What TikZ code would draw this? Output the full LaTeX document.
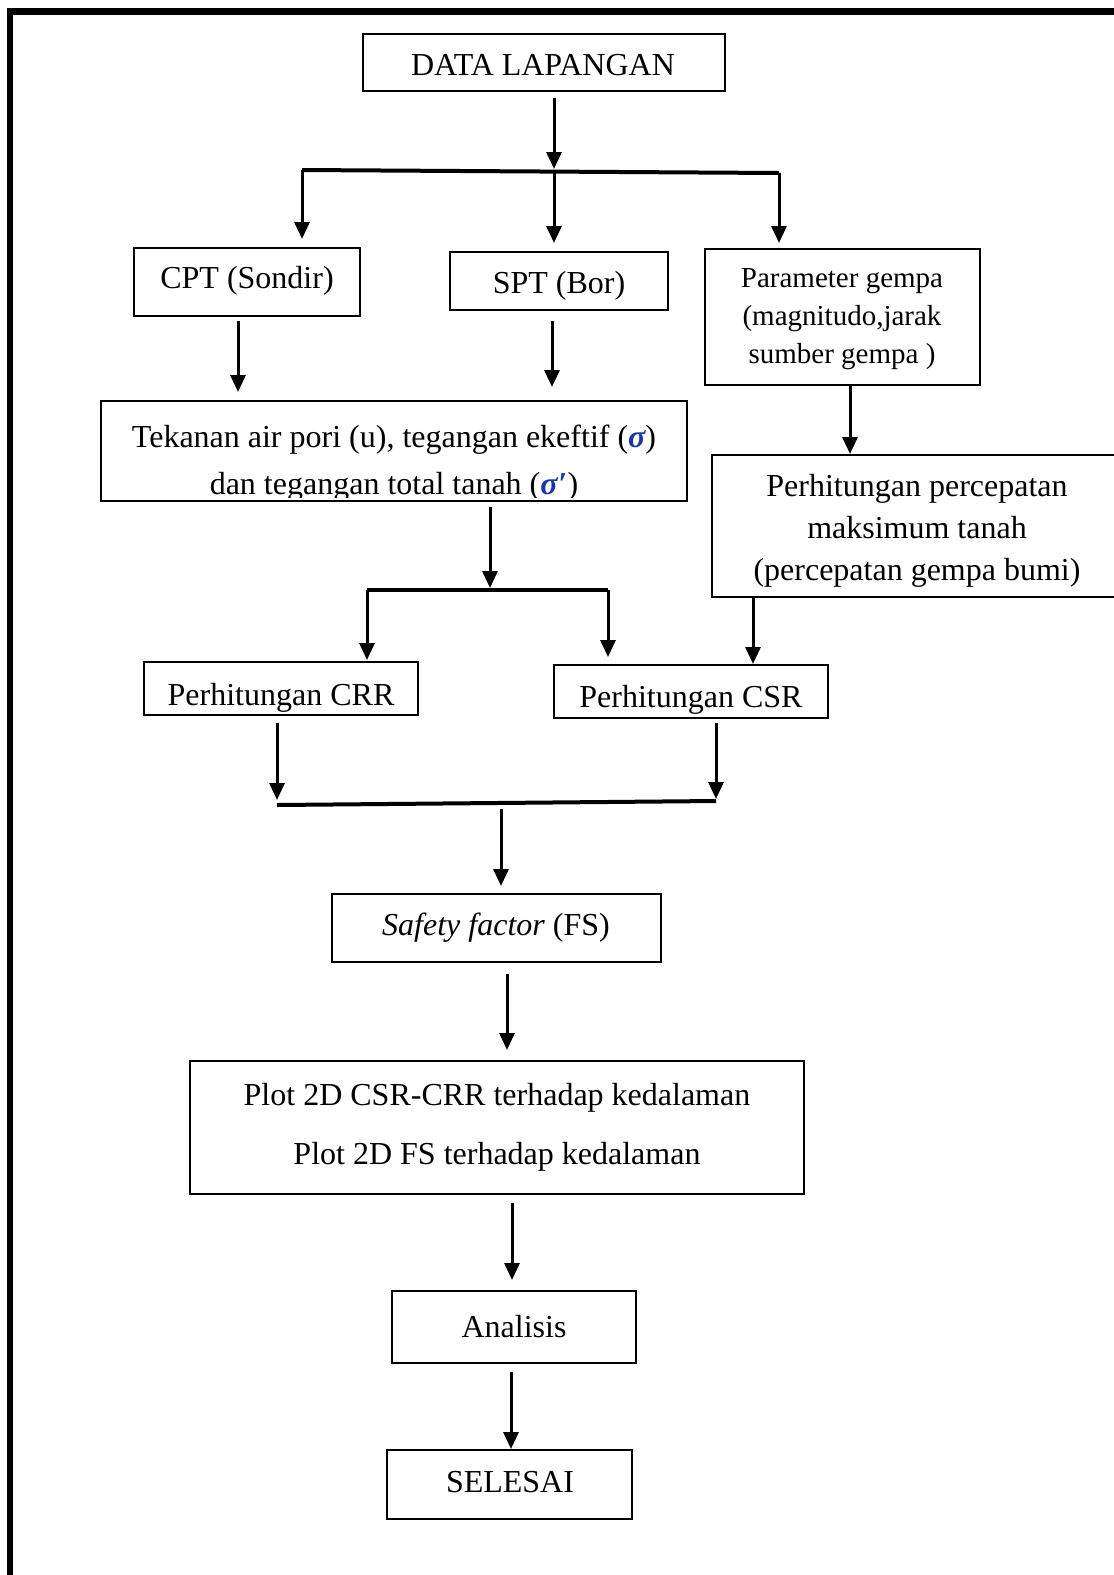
\documentclass[tikz,border=0pt]{standalone}
\usepackage{fontspec}
\setmainfont{Liberation Serif}
\usetikzlibrary{arrows.meta,fit,calc}
\definecolor{sigblue}{RGB}{25,55,165}
\newcommand{\sig}{\textcolor{sigblue}{\bfseries\itshape σ}}
\newcommand{\sigp}{\textcolor{sigblue}{\bfseries\itshape σ\kern1pt\upshape ′}}
\begin{document}
\begin{tikzpicture}[x=1pt,y=-1pt,
  box/.style={draw, line width=2pt, inner sep=0pt},
  txt/.style={anchor=base, inner sep=0pt, font=\fontsize{32}{38}\selectfont},
  stxt/.style={anchor=base, inner sep=0pt, font=\fontsize{29}{34}\selectfont},
  arr/.style={line width=3pt, -{Triangle[width=15pt,length=17pt]}},
  bar/.style={line width=4pt},
]
\clip (0,0) rectangle (1114,1575);
\fill[white] (0,0) rectangle (1114,1575);
% frame
\draw[line width=6.5pt] (10,1590) -- (10,11.5) -- (1130,11.5);

% boxes
\node[box, fit={(363,34) (725,91)}] (data) {};
\node[box, fit={(134,248) (360,316)}] (cpt) {};
\node[box, fit={(450,252) (668,310)}] (spt) {};
\node[box, fit={(705,249) (980,385)}] (param) {};
\node[box, fit={(101,401) (687,501)}] (tek) {};
\node[box, fit={(712,455) (1122,597)}] (perc) {};
\node[box, fit={(144,662) (418,715)}] (crr) {};
\node[box, fit={(554,665) (828,718)}] (csr) {};
\node[box, fit={(332,894) (661,962)}] (sf) {};
\node[box, fit={(190,1061) (804,1194)}] (plot) {};
\node[box, fit={(392,1291) (636,1363)}] (anl) {};
\node[box, fit={(387,1450) (632,1519)}] (sel) {};

% texts
\node[txt] (datat) at (543,75) {DATA LAPANGAN};
\node[txt] (cptt) at (247,288) {CPT (Sondir)};
\node[txt] (sptt) at (559,293) {SPT (Bor)};
\node[stxt] (param1) at (842,287) {Parameter gempa};
\node[stxt] (param2) at (842,325) {(magnitudo,jarak};
\node[stxt] (param3) at (842,363) {sumber gempa )};
\begin{scope}
  \clip (tek.north west) rectangle ($(tek.south east)+(0,-5)$);
  \node[txt] (tek1) at (394,447) {Tekanan air pori (u), tegangan ekeftif (\sig)};
  \node[txt] (tek2) at (394,494) {dan tegangan total tanah (\sigp)};
\end{scope}
\node[txt] (perc1) at (917,496) {Perhitungan percepatan};
\node[txt] (perc2) at (917,538) {maksimum tanah};
\node[txt] (perc3) at (917,580) {(percepatan gempa bumi)};
\begin{scope}
  \clip (crr.north west) rectangle ($(crr.south east)+(0,-5)$);
  \node[txt] (crrt) at (281,705) {Perhitungan CRR};
\end{scope}
\begin{scope}
  \clip (csr.north west) rectangle ($(csr.south east)+(0,-5)$);
  \node[txt] (csrt) at (691,707) {Perhitungan CSR};
\end{scope}
\node[txt] (sft) at (496,935) {\textit{Safety factor} (FS)};
\node[txt] (plot1) at (497,1105) {Plot 2D CSR-CRR terhadap kedalaman};
\node[txt] (plot2) at (497,1164) {Plot 2D FS terhadap kedalaman};
\node[txt] (anlt) at (514,1337) {Analisis};
\node[txt] (selt) at (510,1492) {SELESAI};

% junctions
\coordinate (jA) at (554,171);
\coordinate (jL) at (302,170);
\coordinate (jR) at (779,173);
\coordinate (jT) at (490,590);
\coordinate (jTL) at (367,590);
\coordinate (jTR) at (608,590);
\coordinate (jBL) at (277,805);
\coordinate (jBR) at (716,801);
\coordinate (jBM) at (501,803);

% connectors
\draw[arr] ($(data.south)+(10,6)$) -- ($(jA)+(0,-2)$);
\draw[bar] (jL) -- (jR);
\draw[arr] (jL) -- ($(jL |- cpt.north)+(0,-8)$);
\draw[arr] (jA) -- ($(jA |- spt.north)+(0,-8)$);
\draw[arr] (jR) -- ($(jR |- param.north)+(0,-5)$);
\draw[arr] ($(cpt.south)+(-9,4)$) -- ($(cpt.south |- tek.north)+(-9,-8)$);
\draw[arr] ($(spt.south)+(-7,10)$) -- ($(spt.south |- tek.north)+(-7,-13)$);
\draw[arr] ($(param.south)+(7.5,0)$) -- ($(param.south |- perc.north)+(7.5,0)$);
\draw[arr] ($(tek.south)+(96,5)$) -- ($(jT)+(0,-2)$);
\draw[bar] (jTL) -- (jTR);
\draw[arr] (jTL) -- ($(jTL |- crr.north)+(0,-1)$);
\draw[arr] (jTR) -- ($(jTR |- csr.north)+(0,-7)$);
\draw[arr] ($(perc.south)+(-164,0)$) -- ($(perc.south |- csr.north)+(-164,0)$);
\draw[arr] ($(crr.south)+(-4,7)$) -- ($(jBL)+(0,-5)$);
\draw[arr] ($(csr.south)+(25,4)$) -- ($(jBR)+(0,-2)$);
\draw[bar] (jBL) -- (jBR);
\draw[arr] ($(jBM)+(0,6)$) -- ($(jBM |- sf.north)+(0,-7)$);
\draw[arr] ($(sf.south)+(10.5,11)$) -- ($(sf.south |- plot.north)+(10.5,-10)$);
\draw[arr] ($(plot.south)+(15,8)$) -- ($(plot.south |- anl.north)+(15,-10)$);
\draw[arr] ($(anl.south)+(-3,8)$) -- ($(anl.south |- sel.north)+(-3,0)$);
\end{tikzpicture}
\end{document}
